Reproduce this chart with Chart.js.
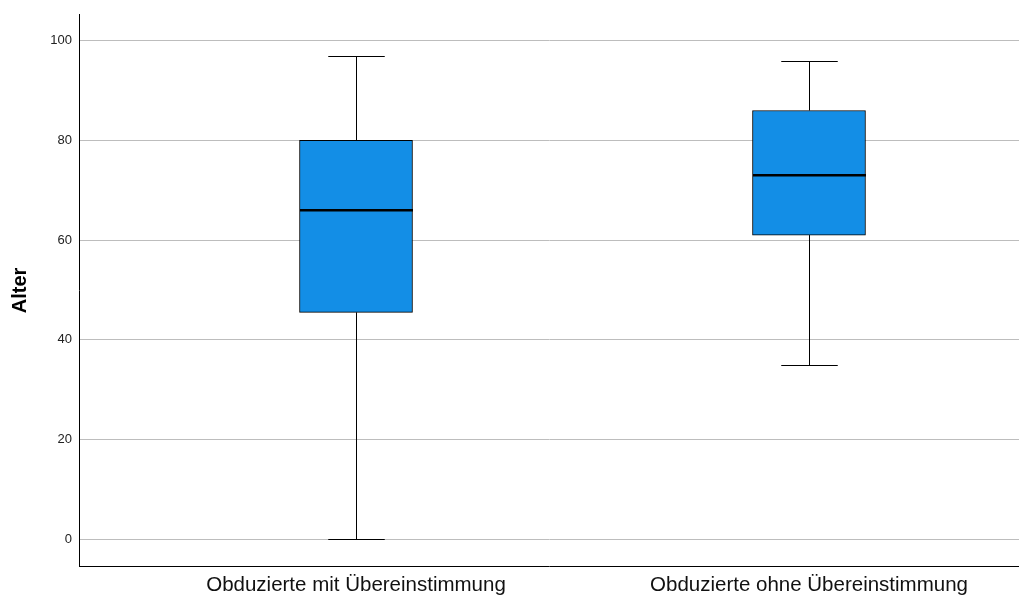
<!DOCTYPE html>
<html>
<head>
<meta charset="utf-8">
<script src="https://cdn.jsdelivr.net/npm/chart.js@4/dist/chart.umd.min.js"></script>
<style>
	html, body { margin: 0; padding: 0; background: #fff; }
	#wrap { width: 1019px; height: 602px; }
</style>
</head>
<body>
<div id="wrap"><canvas id="myChart" width="1019" height="602"></canvas></div>
<script>
// Boxplot values (Alter)
const groups = ['Obduzierte mit Übereinstimmung', 'Obduzierte ohne Übereinstimmung']
const positions = [1, 2]
const mins = [0, 35]
const q1s = [45.5, 61]
const medians = [66, 73]
const q3s = [80, 86]
const maxs = [97, 96]
const yTicks = [0, 20, 40, 60, 80, 100]

Chart.defaults.font.family = '"Liberation Sans", Arial, sans-serif'
Chart.defaults.color = '#222'

// whiskers, caps and median line drawn from the scales
const boxExtras = {
	id: 'boxExtras',
	afterDatasetsDraw(chart) {
		const c = chart.ctx
		const xs = chart.scales.x
		const ys = chart.scales.y
		const boxW = 113
		c.save()
		c.strokeStyle = '#000'
		for (let i = 0; i < positions.length; i++) {
			const cx = Math.round(xs.getPixelForValue(positions[i])) + 0.5
			const yMin = Math.round(ys.getPixelForValue(mins[i])) + 0.5
			const yQ1 = ys.getPixelForValue(q1s[i])
			const yQ3 = ys.getPixelForValue(q3s[i])
			const yMax = Math.round(ys.getPixelForValue(maxs[i])) + 0.5
			const yMed = ys.getPixelForValue(medians[i])
			c.lineWidth = 1
			c.beginPath()
			c.moveTo(cx, yMax); c.lineTo(cx, yQ3)
			c.moveTo(cx, yQ1); c.lineTo(cx, yMin)
			c.moveTo(cx - boxW / 4, yMax); c.lineTo(cx + boxW / 4, yMax)
			c.moveTo(cx - boxW / 4, yMin); c.lineTo(cx + boxW / 4, yMin)
			c.stroke()
			c.lineWidth = 2.5
			c.beginPath()
			c.moveTo(cx - boxW / 2, yMed); c.lineTo(cx + boxW / 2, yMed)
			c.stroke()
		}
		c.restore()
	}
}

const ctx = document.getElementById('myChart')
var chart = new Chart(ctx, {
	type: 'bar',
	data: {
		datasets: [{
			data: positions.map((p, i) => ({ x: p, y: [q1s[i], q3s[i]] })),
			backgroundColor: '#138ee6',
			borderColor: '#000',
			borderWidth: 1,
			borderSkipped: false,
			barThickness: 113
		}]
	},
	options: {
		responsive: false,
		animation: false,
		layout: { padding: { top: 10, right: 0, left: 0, bottom: 0 } },
		plugins: {
			legend: { display: false },
			tooltip: { enabled: false }
		},
		scales: {
			x: {
				type: 'linear',
				offset: false,
				min: 0.3885,
				max: 2.4636,
				afterBuildTicks: axis => { axis.ticks = positions.map(v => ({ value: v })) },
				afterFit: axis => { axis.height = 36 },
				grid: { display: false, drawTicks: false },
				border: { display: true, color: '#000', width: 1 },
				ticks: {
					padding: 7,
					autoSkip: false,
					maxRotation: 0,
					color: '#111',
					font: { size: 20.5 },
					callback: function (value) {
						return groups[positions.indexOf(value)]
					}
				}
			},
			y: {
				min: -5.4,
				max: 105.2,
				afterBuildTicks: axis => { axis.ticks = yTicks.map(v => ({ value: v })) },
				afterFit: axis => { axis.width = 79 },
				grid: { color: '#bdbdbd', lineWidth: 1, drawTicks: false },
				border: { display: true, color: '#000', width: 1 },
				ticks: {
					padding: 7,
					color: '#222',
					font: { size: 13 }
				},
				title: {
					display: true,
					text: 'Alter',
					color: '#000',
					font: { size: 20, weight: 'bold' },
					padding: { top: 8, bottom: 0 }
				}
			}
		}
	},
	plugins: [boxExtras]
})
</script>
</body>
</html>
